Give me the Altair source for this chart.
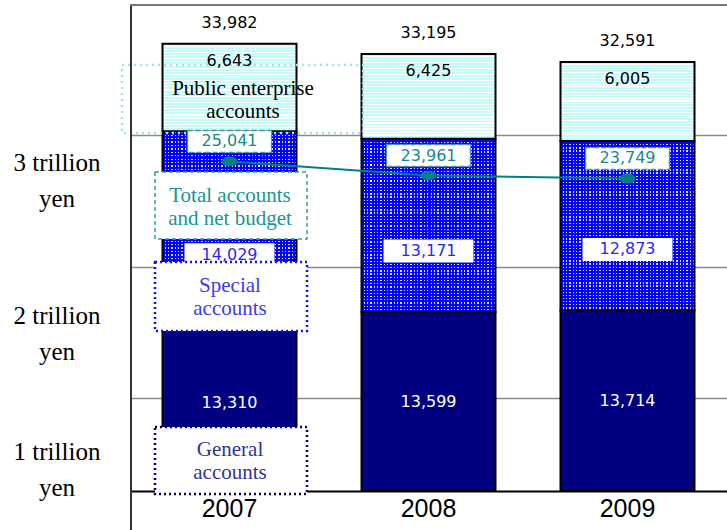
import altair as alt
import pandas as pd

# ---------------- data ----------------
years = ["2007", "2008", "2009"]
general = [13310, 13599, 13714]
special = [14029, 13171, 12873]
public = [6643, 6425, 6005]
totals = [33982, 33195, 32591]
net_total = [25041, 23961, 23749]

yaxis_labels = [["3 trillion", "yen"], ["2 trillion", "yen"], ["1 trillion", "yen"]]
grid_values = [7050, 17000, 27050]
public_label = ["Public enterprise", "accounts"]
net_label = ["Total accounts", "and net budget"]
special_label = ["Special", "accounts"]
general_label = ["General", "accounts"]

# ---------------- layout ----------------
W, H = 597, 487
YMAX = 37000
U = YMAX / H  # data units per pixel

df = pd.DataFrame({
    "year": years, "general": general, "special": special,
    "public": public, "total": totals, "net": net_total,
})
df["s_top"] = df["general"] + df["special"]
df["p_top"] = df["s_top"] + df["public"]


def stripes(c1, c2, n, frac, horizontal):
    stops = []
    for i in range(n):
        a = round(i / n, 5)
        b = round((i + frac) / n, 5)
        c = round((i + 1) / n, 5)
        stops += [{"offset": a, "color": c1}, {"offset": b, "color": c1},
                  {"offset": b, "color": c2}, {"offset": c, "color": c2}]
    g = {"gradient": "linear", "stops": stops, "x1": 0, "y1": 0}
    if horizontal:
        g.update({"x2": 0, "y2": 1})
    else:
        g.update({"x2": 1, "y2": 0})
    return g


cyan_fill = stripes("#c6fbfb", "#ffffff", 28, 0.62, True)
dots_cols = stripes("#0000ff", "#dcdcff", 40, 0.6, False)
dots_rows = stripes("rgba(0,0,255,0)", "#0000ff", 54, 0.4, True)

SC = alt.Scale(domain=[0, YMAX], nice=False, zero=True)
YAX = alt.Axis(values=grid_values, grid=True, gridColor="#8a8a8a", gridWidth=1.5,
               labels=False, ticks=False, domain=False, title=None)
XAX = alt.Axis(title=None, labelAngle=0, labelFont="Liberation Sans", labelFontSize=25,
               labelColor="black", ticks=False, domain=True, domainColor="black",
               domainWidth=2, labelPadding=5, grid=False)
XENC = alt.X("year:N", axis=XAX, sort=years)


def Y(field):
    return alt.Y(field, type="quantitative", scale=SC, axis=YAX)


base = alt.Chart(df)
BW = 134
VF = "DejaVu Sans"
VS = 16

gen_bar = base.mark_bar(size=BW, fill="#000080", stroke="black", strokeWidth=2).encode(
    x=XENC, y=Y("general"))
spec_a = base.mark_bar(size=BW, fill=dots_cols, strokeWidth=0).encode(
    x=XENC, y=Y("s_top"), y2="general")
spec_b = base.mark_bar(size=BW, fill=dots_rows, stroke="black", strokeWidth=2).encode(
    x=XENC, y=Y("s_top"), y2="general")
pub_bar = base.mark_bar(size=BW, fill=cyan_fill, stroke="black", strokeWidth=2).encode(
    x=XENC, y=Y("p_top"), y2="s_top")

one = alt.Chart(pd.DataFrame({"k": [0]}))


def box(x1, x2, y1, y2, fill, stroke, dash, sw, fo=1.0):
    return one.mark_rect(fill=fill, fillOpacity=fo, stroke=stroke, strokeDash=dash,
                         strokeWidth=sw).encode(
        x=alt.value(x1), x2=alt.value(x2), y=alt.value(y1), y2=alt.value(y2))


def label(lines, x, y, color, size=21):
    return one.mark_text(font="Liberation Serif", fontSize=size, color=color,
                         lineHeight=23, align="center", baseline="middle").encode(
        x=alt.value(x), y=alt.value(y), text=alt.value(lines))


pub_box = box(-8, 233, 61, 129, "white", "#9fe3ee", [2, 4], 2.5, 0.0)
pub_text = label(public_label, 113, 85, "black")

line = base.mark_line(color="#008080", strokeWidth=2).encode(x=XENC, y=Y("net"))
pts = base.mark_point(shape="M -1 0 A 1 0.62 0 1 1 1 0 A 1 0.62 0 1 1 -1 0 Z",
                      filled=True, size=256, color="#008080", opacity=1).encode(
    x=XENC, y=Y("net"))

net_lab = base.transform_calculate(ly=f"datum.net + {20 * U}",
                                   ly0=f"datum.net + {9 * U}",
                                   ly1=f"datum.net + {31 * U}")
net_box = net_lab.mark_bar(size=84, fill="white", stroke="#3a9a9a", strokeDash=[5, 3],
                           strokeWidth=1.5).encode(x=XENC, y=Y("ly0:Q"), y2="ly1:Q")
net_txt = net_lab.mark_text(font=VF, fontSize=VS, color="#168a8a").encode(
    x=XENC, y=Y("ly:Q"), text=alt.Text("net:Q", format=","))

sp_lab = base.transform_calculate(ly=f"datum.general + {61 * U}",
                                  ly0=f"datum.general + {49.5 * U}",
                                  ly1=f"datum.general + {72.5 * U}")
sp_box = sp_lab.mark_bar(size=90, fill="white", strokeWidth=0).encode(
    x=XENC, y=Y("ly0:Q"), y2="ly1:Q")
sp_txt = sp_lab.mark_text(font=VF, fontSize=VS, color="#2a2af5").encode(
    x=XENC, y=Y("ly:Q"), text=alt.Text("special:Q", format=","))

gen_txt = base.transform_calculate(ly="datum.general / 2").mark_text(
    font=VF, fontSize=VS, color="white").encode(
    x=XENC, y=Y("ly:Q"), text=alt.Text("general:Q", format=","))

pub_txt = base.transform_calculate(ly=f"datum.p_top - {17 * U}").mark_text(
    font=VF, fontSize=VS, color="black").encode(
    x=XENC, y=Y("ly:Q"), text=alt.Text("public:Q", format=","))

tot_txt = base.transform_calculate(ly=f"datum.p_top + {21 * U}").mark_text(
    font=VF, fontSize=VS, color="black").encode(
    x=XENC, y=Y("ly:Q"), text=alt.Text("total:Q", format=","))

net_abox = box(25, 177, 168, 235, "white", "#3a9a9a", [4, 3], 1.5)
net_atext = label(net_label, 100, 192, "#1a9494")
sp_abox = box(25, 177, 258, 327, "white", "#1010ff", [2, 3], 2.5)
sp_atext = label(special_label, 100, 282, "#3c3ce6")
gen_abox = box(25, 177, 423, 490, "white", "#000080", [2, 3], 2.5)
gen_atext = label(general_label, 100, 446, "#333399")

ylab_layers = []
for lines, yy in zip(yaxis_labels, [159, 312, 448]):
    ylab_layers.append(
        one.mark_text(font="Liberation Serif", fontSize=25, color="black",
                      lineHeight=36, align="center", baseline="middle").encode(
            x=alt.value(-73), y=alt.value(yy), text=alt.value(lines)))

left_rule = one.mark_rule(color="#333333", strokeWidth=2).encode(
    x=alt.value(1), y=alt.value(0), y2=alt.value(526))
top_rule = one.mark_rule(color="#777777", strokeWidth=2).encode(
    x=alt.value(0), x2=alt.value(W), y=alt.value(1))

chart = alt.layer(
    gen_bar, spec_a, spec_b, pub_bar, pub_box, pub_text,
    line, pts, net_box, net_txt, sp_box, sp_txt, gen_txt, pub_txt, tot_txt,
    net_abox, net_atext, sp_abox, sp_atext, gen_abox, gen_atext,
    *ylab_layers, left_rule, top_rule,
).properties(
    width=W, height=H,
    autosize=alt.AutoSizeParams(type="none"),
    padding={"left": 130, "top": 4, "right": 0, "bottom": 39},
    background="white",
).configure_view(stroke=None)

chart.save("out.html", embed_options={"renderer": "svg", "actions": False})
